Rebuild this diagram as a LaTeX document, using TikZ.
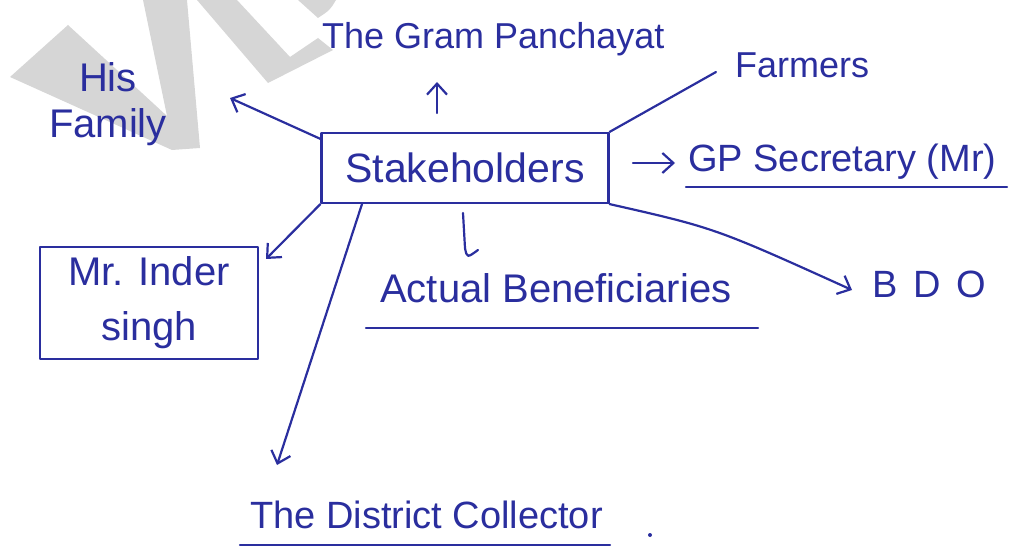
\documentclass[tikz,border=0pt]{standalone}
\usepackage{fontspec}
\setmainfont{Liberation Sans}
\usetikzlibrary{arrows.meta}
\definecolor{ink}{RGB}{42,46,158}
\definecolor{palegray}{RGB}{214,214,214}

\begin{document}
\begin{tikzpicture}[x=1pt,y=-1pt,
  inkline/.style={draw=ink, line width=2.2pt, line cap=round, line join=round},
  arr/.style={inkline, -{Straight Barb[length=11pt,width=20pt]}},
  hw/.style={text=ink, inner sep=0pt},
  sz36/.style={hw, font=\fontsize{36pt}{42pt}\selectfont},
  sz38/.style={hw, font=\fontsize{38pt}{44pt}\selectfont},
  sz40/.style={hw, font=\fontsize{40pt}{46pt}\selectfont},
  boxed/.style={inkline, text=ink, inner sep=0pt}
]
\useasboundingbox (0,0) rectangle (1013,548);

% faint background shapes
\fill[palegray] (10,77) -- (68,25) -- (167,116) -- (143,0) -- (187,0) -- (200,148) -- (172,150) -- cycle;
\fill[palegray] (197,0) -- (237,0) -- (290,57) -- (318,38) -- (333,50) -- (268,83) -- cycle;
\fill[palegray] (298,0) -- (336,0) .. controls (330,10) .. (318,18) -- cycle;

% central box
\node[boxed, font=\fontsize{41pt}{46pt}\selectfont, minimum width=287pt, minimum height=70pt] (sh) at (465,168) {Stakeholders};

% stakeholder labels
\node[sz40, align=center] (fam) at (108,104) {His\\Family};
\node[sz36, anchor=base west] (gp) at (322,49) {The Gram Panchayat};
\node[sz36, anchor=base west] (far) at (735,78) {Farmers};
\node[sz38, anchor=base west] (sec) at (688,172) {GP Secretary (Mr)};
\node[sz40, anchor=base west] (ben) at (380,303) {Actual Beneficiaries};
\node[sz38, anchor=base west] (bdo) at (872,298) {B\hspace{16pt}D\hspace{16pt}O};
\node[boxed, align=center, font=\fontsize{40pt}{55pt}\selectfont, minimum width=218pt, minimum height=112pt] (ind) at (149,303) {Mr. Inder\\singh};
\node[sz38, anchor=base west] (dc) at (250,528) {The District Collector};

% free ends of the connectors
\coordinate (famTip) at (230,98);
\coordinate (upTail) at (437,113);
\coordinate (upTip) at (437,82);
\coordinate (farEnd) at (716,72);
\coordinate (secTail) at (633,163);
\coordinate (secTip) at (675,163);
\coordinate (bdoTip) at (852,290);
\coordinate (benTop) at (463,213);
\coordinate (indTip) at (266,259);
\coordinate (dcTail) at (362,204);
\coordinate (dcTip) at (277,465);

% connectors
\draw[arr] ([yshift=-7pt]sh.north west) -- (famTip);
\draw[arr] (upTail) -- (upTip);
\draw[inkline] (sh.north east) -- (farEnd);
\draw[arr] (secTail) -- (secTip);
\draw[arr] (sh.south east) .. controls (715,228) .. (bdoTip);
\draw[inkline] (benTop) -- (465,248) .. controls (467,258) .. (478,250);
\draw[arr] (sh.south west) -- (indTip);
\draw[arr] (dcTail) -- (dcTip);

% underlines
\draw[inkline] (686,187) -- (1007,187);
\draw[inkline] (366,328) -- (758,328);
\draw[inkline] (240,545) -- (610,545);
\fill[ink] (650,535) circle (2);
\end{tikzpicture}
\end{document}
